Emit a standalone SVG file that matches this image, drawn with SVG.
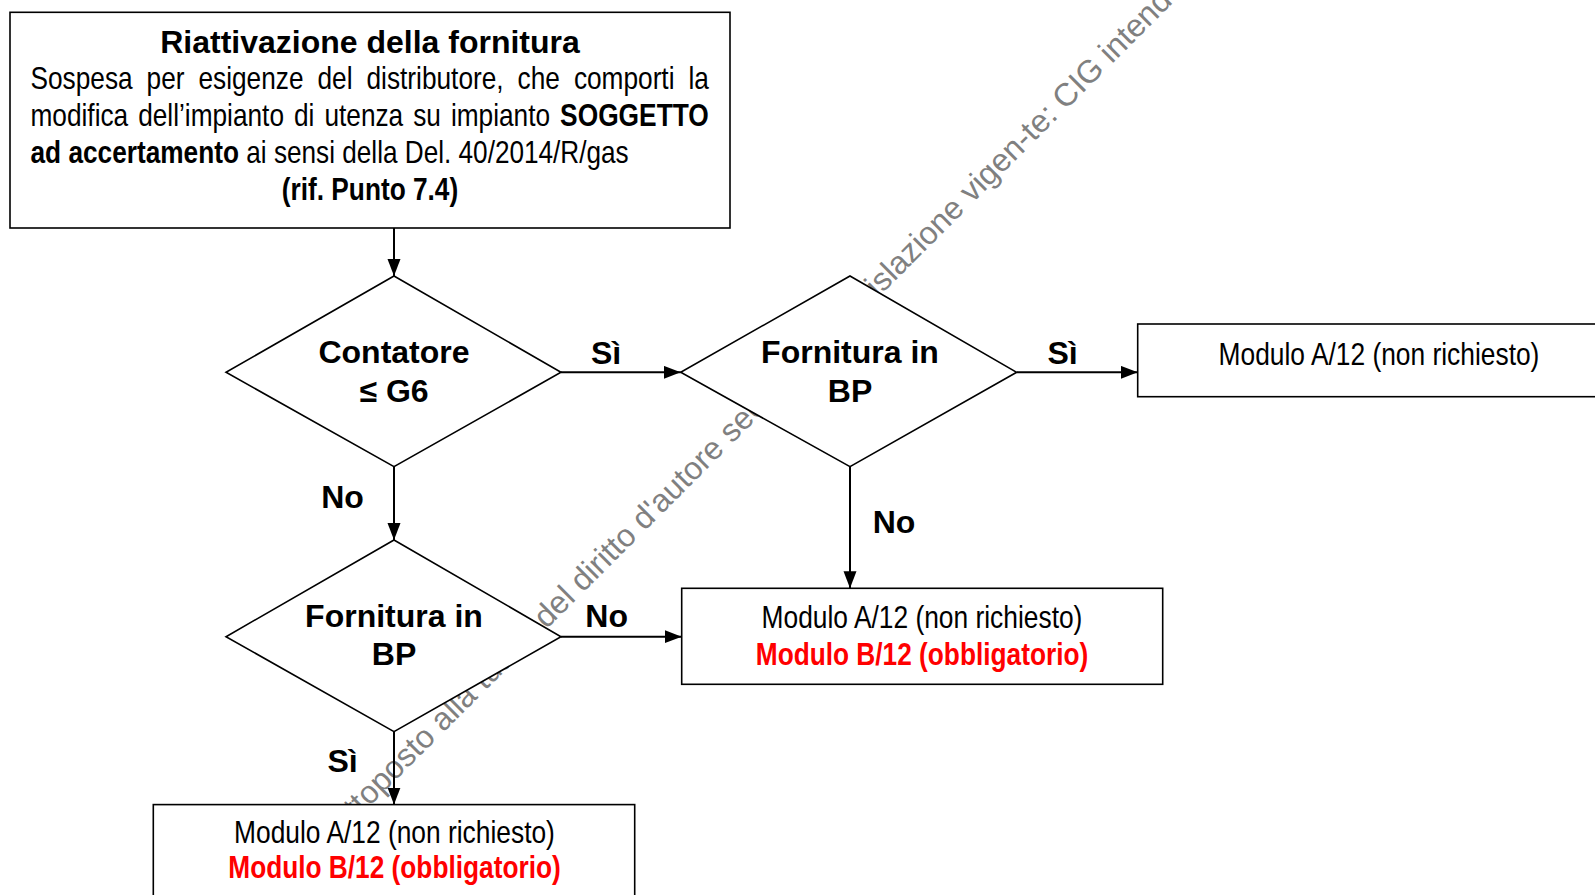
<svg xmlns="http://www.w3.org/2000/svg" width="1595" height="895" viewBox="0 0 1595 895">
<style>
.shape{fill:#fff;stroke:#000;stroke-width:1.6}
.conn{stroke:#000;stroke-width:2;fill:none;marker-end:url(#arr)}
.b{font-family:'Liberation Sans',Arial,sans-serif;font-weight:bold;font-size:32px;fill:#000}
.n{font-family:'Liberation Sans Narrow','Arial Narrow','Liberation Sans',Arial,sans-serif;font-size:32px;fill:#000}
.nb{font-family:'Liberation Sans Narrow','Arial Narrow','Liberation Sans',Arial,sans-serif;font-size:32px;font-weight:bold;fill:#000}
.red{fill:#ff0000}
.wm{font-family:'Liberation Sans',Arial,sans-serif;font-size:32px;fill:#808080}
.c{text-anchor:middle}
</style>
<defs>
<marker id="arr" markerUnits="userSpaceOnUse" markerWidth="18" markerHeight="14" refX="17" refY="6.5" orient="auto"><path d="M0,0 L17,6.5 L0,13 z" fill="#000"/></marker>
</defs>
<rect x="0" y="0" width="1595" height="895" fill="#fff"/>
<text class="wm" transform="translate(546.5,629.5) rotate(-45)" x="-302.4" y="0">sottoposto alla tutela del diritto d'autore secondo la legislazione vigen-te: CIG intende</text>

<g id="start">
<rect class="shape" x="10" y="12.3" width="720" height="215.7"/>
<text class="b c" x="370" y="53">Riattivazione della fornitura</text>
<text class="n" x="30.5" y="89" textLength="102.1" lengthAdjust="spacingAndGlyphs">Sospesa</text>
<text class="n" x="146.6" y="89" textLength="37.9" lengthAdjust="spacingAndGlyphs">per</text>
<text class="n" x="198.5" y="89" textLength="105" lengthAdjust="spacingAndGlyphs">esigenze</text>
<text class="n" x="317.5" y="89" textLength="35" lengthAdjust="spacingAndGlyphs">del</text>
<text class="n" x="366.5" y="89" textLength="137.1" lengthAdjust="spacingAndGlyphs">distributore,</text>
<text class="n" x="517.6" y="89" textLength="42.3" lengthAdjust="spacingAndGlyphs">che</text>
<text class="n" x="573.9" y="89" textLength="100.6" lengthAdjust="spacingAndGlyphs">comporti</text>
<text class="n" x="688.5" y="89" textLength="20.4" lengthAdjust="spacingAndGlyphs">la</text>
<text class="n" x="30.5" y="126" textLength="97.7" lengthAdjust="spacingAndGlyphs">modifica</text>
<text class="n" x="138.2" y="126" textLength="145.8" lengthAdjust="spacingAndGlyphs">dell’impianto</text>
<text class="n" x="294" y="126" textLength="20.4" lengthAdjust="spacingAndGlyphs">di</text>
<text class="n" x="324.4" y="126" textLength="78.8" lengthAdjust="spacingAndGlyphs">utenza</text>
<text class="n" x="413.2" y="126" textLength="27.7" lengthAdjust="spacingAndGlyphs">su</text>
<text class="n" x="450.9" y="126" textLength="99.2" lengthAdjust="spacingAndGlyphs">impianto</text>
<text class="nb" x="560.1" y="126" textLength="148.7" lengthAdjust="spacingAndGlyphs">SOGGETTO</text>
<text class="nb" x="30.5" y="163" textLength="208.5" lengthAdjust="spacingAndGlyphs">ad accertamento</text>
<text class="n" x="246.3" y="163" textLength="382.4" lengthAdjust="spacingAndGlyphs">ai sensi della Del. 40/2014/R/gas</text>
<text class="nb" x="281.8" y="200" textLength="176.4" lengthAdjust="spacingAndGlyphs">(rif. Punto 7.4)</text>
</g>

<g id="d1">
<polygon class="shape" points="394,276 561,372.3 394,466.7 226,372.3"/>
<text class="b c" x="394" y="363.3">Contatore</text>
<text class="b c" x="394" y="401.7">≤ G6</text>
</g>

<g id="d2">
<polygon class="shape" points="850,276 1016.7,372.3 850,466.7 680.7,372.3"/>
<text class="b c" x="850" y="363.3">Fornitura in</text>
<text class="b c" x="850" y="401.7">BP</text>
</g>

<g id="d3">
<polygon class="shape" points="394,540 561,636.7 394,731.7 226,636.7"/>
<text class="b c" x="394" y="626.7">Fornitura in</text>
<text class="b c" x="394" y="665">BP</text>
</g>

<g id="box-right">
<rect class="shape" x="1137.7" y="324" width="480" height="72.7"/>
<text class="n" x="1218.6" y="365" textLength="320.8" lengthAdjust="spacingAndGlyphs">Modulo A/12 (non richiesto)</text>
</g>

<g id="box-mid">
<rect class="shape" x="681.7" y="588.3" width="481" height="96"/>
<text class="n" x="761.6" y="627.7" textLength="320.8" lengthAdjust="spacingAndGlyphs">Modulo A/12 (non richiesto)</text>
<text class="nb red" x="755.8" y="665" textLength="332.4" lengthAdjust="spacingAndGlyphs">Modulo B/12 (obbligatorio)</text>
</g>

<g id="box-bottom">
<rect class="shape" x="153.3" y="804.6" width="481.4" height="120"/>
<text class="n" x="234.1" y="843.3" textLength="320.8" lengthAdjust="spacingAndGlyphs">Modulo A/12 (non richiesto)</text>
<text class="nb red" x="228.3" y="878.3" textLength="332.4" lengthAdjust="spacingAndGlyphs">Modulo B/12 (obbligatorio)</text>
</g>

<g id="connectors">
<path class="conn" d="M394,228 V276"/>
<path class="conn" d="M561,372.3 H680.7"/>
<path class="conn" d="M1016.7,372.3 H1137.7"/>
<path class="conn" d="M394,466.7 V540"/>
<path class="conn" d="M850,466.7 V588.3"/>
<path class="conn" d="M561,636.7 H681.7"/>
<path class="conn" d="M394,731.7 V804.6"/>
<text class="b c" x="606" y="364">Sì</text>
<text class="b c" x="1062.5" y="364">Sì</text>
<text class="b c" x="342.5" y="508.3">No</text>
<text class="b c" x="894" y="532.7">No</text>
<text class="b c" x="606.7" y="626.7">No</text>
<text class="b c" x="342.5" y="772.3">Sì</text>
</g>
</svg>
